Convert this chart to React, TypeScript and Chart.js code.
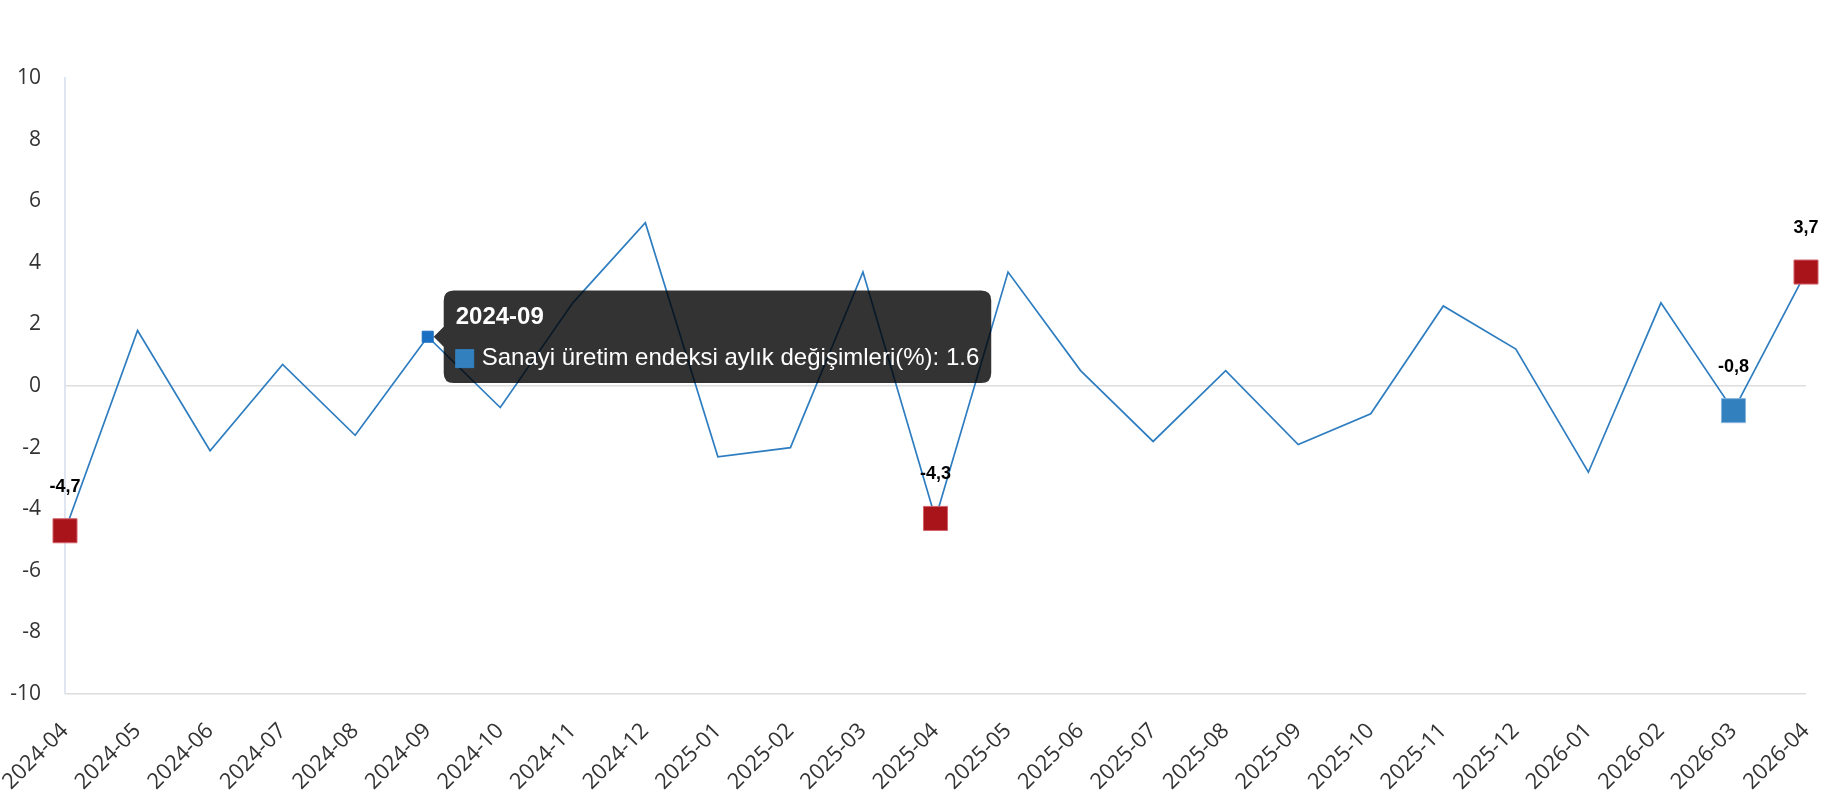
import React, { useEffect, useRef } from "react";
import { Chart, registerables } from "chart.js";

Chart.register(...registerables);

const categories = [
  "2024-04", "2024-05", "2024-06", "2024-07", "2024-08", "2024-09", "2024-10", "2024-11", "2024-12",
  "2025-01", "2025-02", "2025-03", "2025-04", "2025-05", "2025-06", "2025-07", "2025-08", "2025-09",
  "2025-10", "2025-11", "2025-12", "2026-01", "2026-02", "2026-03", "2026-04",
];

const values = [
  -4.7, 1.8, -2.1, 0.7, -1.6, 1.6, -0.7, 2.7, 5.3,
  -2.3, -2.0, 3.7, -4.3, 3.7, 0.5, -1.8, 0.5, -1.9,
  -0.9, 2.6, 1.2, -2.8, 2.7, -0.8, 3.7,
];

const seriesLabel = "Sanayi üretim endeksi aylık değişimleri(%)";

// marked points: red = extremes, blue = previous month
const redMarks = [0, 12, 24];
const blueMarks = [23];
const hoveredIndex = 5;

const yTicks = [-10, -8, -6, -4, -2, 0, 2, 4, 6, 8, 10];

const LINE = "#2e7dc0";
const RED = "#a9141b";
const BLUE = "#3380bf";

const labelPlugin = {
  id: "markLabels",
  afterDatasetsDraw(chart: any) {
    const meta = chart.getDatasetMeta(0);
    const ctx = chart.ctx;
    ctx.save();
    ctx.font = "bold 18px 'Liberation Sans', Arial, sans-serif";
    ctx.fillStyle = "#000";
    ctx.textAlign = "center";
    ctx.textBaseline = "alphabetic";
    [...redMarks, ...blueMarks].forEach((i) => {
      const el = meta.data[i];
      const txt = values[i].toFixed(1).replace(".", ",");
      ctx.fillText(txt, el.x, el.y - 39);
    });
    ctx.restore();
  },
};

export default function App() {
  const ref = useRef<HTMLCanvasElement | null>(null);

  useEffect(() => {
    if (!ref.current) return;
    const radii = values.map((_, i) => (redMarks.includes(i) || blueMarks.includes(i) ? 17 : 0));
    const bg = values.map((_, i) => (redMarks.includes(i) ? RED : blueMarks.includes(i) ? BLUE : LINE));
    const border = values.map((_, i) =>
      redMarks.includes(i) ? "#d2646a" : blueMarks.includes(i) ? "#86b3dc" : LINE
    );
    const hoverR = values.map((_, i) => (i === hoveredIndex ? 7.8 : radii[i]));
    const hoverBg = values.map((_, i) => (i === hoveredIndex ? "#1b6fc3" : bg[i]));

    const chart = new Chart(ref.current, {
      type: "line",
      data: {
        labels: categories,
        datasets: [
          {
            label: seriesLabel,
            data: values,
            borderColor: LINE,
            borderWidth: 1.7,
            tension: 0,
            pointStyle: "rect",
            pointRadius: radii,
            pointBackgroundColor: bg,
            pointBorderColor: border,
            pointBorderWidth: 1,
            pointHoverRadius: hoverR,
            pointHoverBackgroundColor: hoverBg,
            pointHoverBorderColor: hoverBg,
            pointHoverBorderWidth: 1,
          },
        ],
      },
      options: {
        responsive: false,
        animation: false,
        events: [],
        layout: { padding: { top: 78, right: 24, left: 0, bottom: 0 } },
        plugins: {
          legend: { display: false },
          tooltip: {
            enabled: true,
            backgroundColor: "rgba(0,0,0,0.8)",
            titleColor: "#fff",
            bodyColor: "#fff",
            titleFont: { family: "'Liberation Sans', Arial, sans-serif", size: 24, weight: "bold" },
            bodyFont: { family: "'Liberation Sans', Arial, sans-serif", size: 24 },
            padding: { top: 13, bottom: 10, left: 12, right: 12 },
            titleMarginBottom: 12,
            cornerRadius: 10,
            caretSize: 10,
            caretPadding: 6,
            xAlign: "left",
            yAlign: "center",
            boxWidth: 18,
            boxHeight: 18,
            boxPadding: 6,
            multiKeyBackground: BLUE,
            callbacks: {
              label: (c: any) => `${c.dataset.label}: ${c.parsed.y}`,
              labelColor: () => ({ borderColor: BLUE, backgroundColor: BLUE, borderWidth: 0 }),
            },
          },
        },
        scales: {
          x: {
            type: "category",
            offset: false,
            grid: { display: false },
            border: { display: false },
            ticks: {
              autoSkip: false,
              maxRotation: 45,
              minRotation: 45,
              padding: 16,
              color: "#333",
              font: { family: "'Open Sans', sans-serif", size: 22 },
            },
            afterFit: (s: any) => {
              s.height = 106;
              s.paddingLeft = 0;
              s.paddingRight = 0;
            },
          },
          y: {
            min: -10,
            max: 10,
            afterBuildTicks: (s: any) => {
              s.ticks = yTicks.map((v) => ({ value: v }));
            },
            grid: {
              drawTicks: false,
              lineWidth: 1.5,
              color: (c: any) =>
                c.tick && (c.tick.value === 0 || c.tick.value === -10) ? "#dddddd" : "rgba(0,0,0,0)",
            },
            border: { display: true, color: "#e0e6f1", width: 2 },
            ticks: {
              padding: 24,
              color: "#333",
              font: { family: "'Open Sans', sans-serif", size: 21 },
              callback: (v: any) => String(v),
            },
            afterFit: (s: any) => {
              s.width = 65;
            },
          },
        },
      },
      plugins: [labelPlugin],
    });

    const active = [{ datasetIndex: 0, index: hoveredIndex }];
    chart.setActiveElements(active);
    const el: any = chart.getDatasetMeta(0).data[hoveredIndex];
    chart.tooltip?.setActiveElements(active, { x: el.x, y: el.y });
    chart.update();

    return () => chart.destroy();
  }, []);

  return (
    <div style={{ position: "fixed", left: 0, top: 0, width: 1830, height: 800, background: "#fff" }}>
      <canvas ref={ref} width={1830} height={800} style={{ display: "block" }} />
    </div>
  );
}
